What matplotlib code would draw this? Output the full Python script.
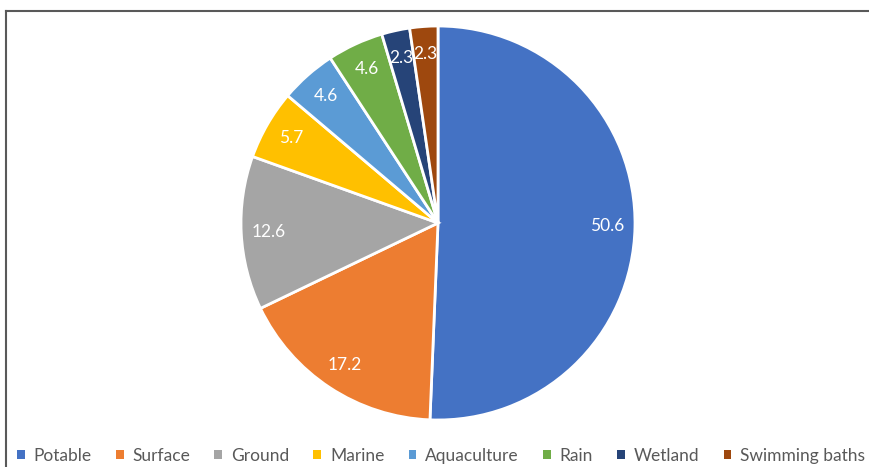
import matplotlib
matplotlib.use("Agg")
import matplotlib.pyplot as plt
from matplotlib.lines import Line2D
import numpy as np

categories = ["Potable", "Surface", "Ground", "Marine", "Aquaculture", "Rain", "Wetland", "Swimming baths"]
values = [50.6, 17.2, 12.6, 5.7, 4.6, 4.6, 2.3, 2.3]
labels = ["50.6", "17.2", "12.6", "5.7", "4.6", "4.6", "2.3", "2.3"]
colors = ["#4472C4", "#ED7D31", "#A5A5A5", "#FFC000", "#5B9BD5", "#70AD47", "#264478", "#9E480E"]

plt.rcParams['font.family'] = ['Lato', 'DejaVu Sans']

W, H = 869, 467
fig = plt.figure(figsize=(W / 100, H / 100), dpi=100)
ax = fig.add_axes([0, 0, 1, 1])

cx, cy, r = 438, H - 223, 197
wedges, texts = ax.pie(values, center=(cx, cy), radius=r, startangle=90, counterclock=False,
                       colors=colors, labels=labels, labeldistance=0.86,
                       wedgeprops=dict(edgecolor="white", linewidth=2),
                       textprops=dict(color="white", fontsize=12.5))
for t in texts:
    t.set_ha("center")
    t.set_va("center")

ax.set_xlim(0, W)
ax.set_ylim(0, H)
ax.set_aspect("equal")
ax.axis("off")

# frame lines (top and left)
fig.add_artist(Line2D([6 / W, 1], [1 - 11 / H, 1 - 11 / H], color="#595959", linewidth=1.5, transform=fig.transFigure))
fig.add_artist(Line2D([6 / W, 6 / W], [0, 1 - 11 / H], color="#595959", linewidth=1.5, transform=fig.transFigure))

handles = [plt.Rectangle((0, 0), 1, 1, facecolor=c) for c in colors]
leg = fig.legend(handles, categories, ncol=8, loc="center", bbox_to_anchor=(441 / W, 1 - 456 / H),
                 frameon=False, fontsize=12.5, handlelength=0.45, handleheight=0.45,
                 handletextpad=0.5, columnspacing=1.4, labelcolor="#595959",
                 borderpad=0, borderaxespad=0)

fig.savefig("out.png", dpi=100)
